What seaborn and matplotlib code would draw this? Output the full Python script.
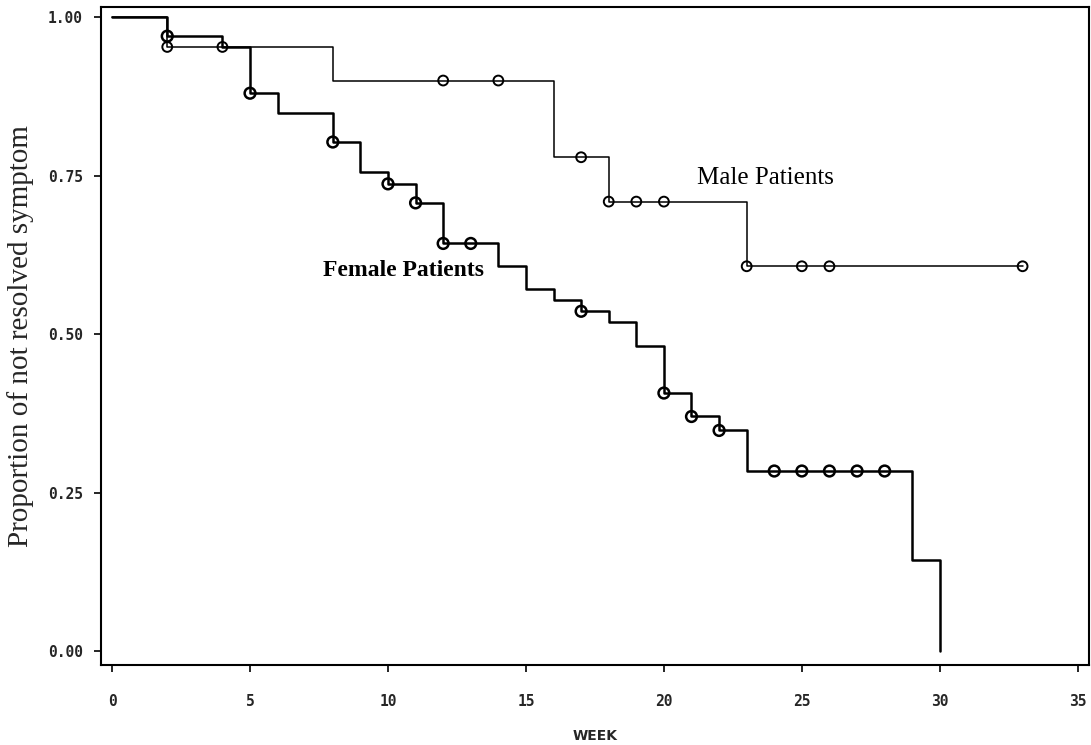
import matplotlib
matplotlib.use("Agg")
import matplotlib.pyplot as plt
import seaborn as sns
import pandas as pd

# Kaplan-Meier step curves
female_time = [0, 2, 4, 5, 6, 8, 9, 10, 11, 12, 14, 15, 16, 17, 18, 19, 20, 21, 22, 23, 29, 30]
female_surv = [1.0, 0.970, 0.953, 0.880, 0.848, 0.803, 0.756, 0.737, 0.707, 0.643, 0.607,
               0.571, 0.554, 0.536, 0.519, 0.481, 0.407, 0.370, 0.348, 0.284, 0.144, 0.0]
male_time = [0, 2, 8, 16, 18, 23, 33]
male_surv = [1.0, 0.953, 0.900, 0.779, 0.709, 0.607, 0.607]

# censored observations
female_cens_time = [2, 5, 8, 10, 11, 12, 13, 17, 20, 21, 22, 24, 25, 26, 27, 28]
female_cens_surv = [0.970, 0.880, 0.803, 0.737, 0.707, 0.643, 0.643, 0.536, 0.407, 0.370,
                    0.348, 0.284, 0.284, 0.284, 0.284, 0.284]
male_cens_time = [2, 4, 12, 14, 17, 18, 19, 20, 23, 25, 26, 33]
male_cens_surv = [0.953, 0.953, 0.900, 0.900, 0.779, 0.709, 0.709, 0.709, 0.607, 0.607, 0.607, 0.607]

x_ticks = [0, 5, 10, 15, 20, 25, 30, 35]
y_ticks = [0.0, 0.25, 0.5, 0.75, 1.0]
y_tick_labels = ["0.00", "0.25", "0.50", "0.75", "1.00"]

sns.set_style("ticks")
plt.rcParams["font.family"] = ["DejaVu Sans"]

fig = plt.figure(figsize=(10.91, 7.45), dpi=100)
ax = fig.add_axes([0.0926, 0.1074, 0.9054, 0.8832])

fem = pd.DataFrame({"t": female_time, "s": female_surv})
mal = pd.DataFrame({"t": male_time, "s": male_surv})
sns.lineplot(data=fem, x="t", y="s", ax=ax, estimator=None, sort=False,
             drawstyle="steps-post", color="black", linewidth=1.8)
sns.lineplot(data=mal, x="t", y="s", ax=ax, estimator=None, sort=False,
             drawstyle="steps-post", color="black", linewidth=1.1)

fc = pd.DataFrame({"t": female_cens_time, "s": female_cens_surv})
mc = pd.DataFrame({"t": male_cens_time, "s": male_cens_surv})
sns.scatterplot(data=fc, x="t", y="s", ax=ax, marker="o", s=60,
                facecolor="none", edgecolor="black", linewidth=1.8, zorder=3)
sns.scatterplot(data=mc, x="t", y="s", ax=ax, marker="o", s=50,
                facecolor="none", edgecolor="black", linewidth=1.4, zorder=3)

ax.text(21.2, 0.746, "Male Patients", family="Liberation Serif", fontsize=18,
        va="center", ha="left", color="black")
ax.text(7.64, 0.601, "Female Patients", family="Liberation Serif", fontsize=17,
        va="center", ha="left", color="black", fontweight="bold")

ax.set_xlim(-0.4, 35.4)
ax.set_ylim(-0.022, 1.016)
ax.set_xticks(x_ticks)
ax.set_xticklabels([str(v) for v in x_ticks], family="DejaVu Sans Mono",
                   fontweight="bold", fontsize=10.5)
ax.set_yticks(y_ticks)
ax.set_yticklabels(y_tick_labels, family="DejaVu Sans Mono", fontweight="bold", fontsize=10.5)
ax.tick_params(axis="both", direction="out", length=5, width=1.2, color="black", pad=8)
ax.tick_params(axis="x", pad=16)

ax.set_xlabel("WEEK", family="DejaVu Sans", fontweight="bold", fontsize=10, labelpad=14)
ax.set_ylabel("Proportion of not resolved symptom", family="Liberation Serif",
              fontsize=21, labelpad=10)

for sp in ax.spines.values():
    sp.set_visible(True)
    sp.set_linewidth(1.5)
    sp.set_color("black")

fig.savefig("out.png", dpi=100)
